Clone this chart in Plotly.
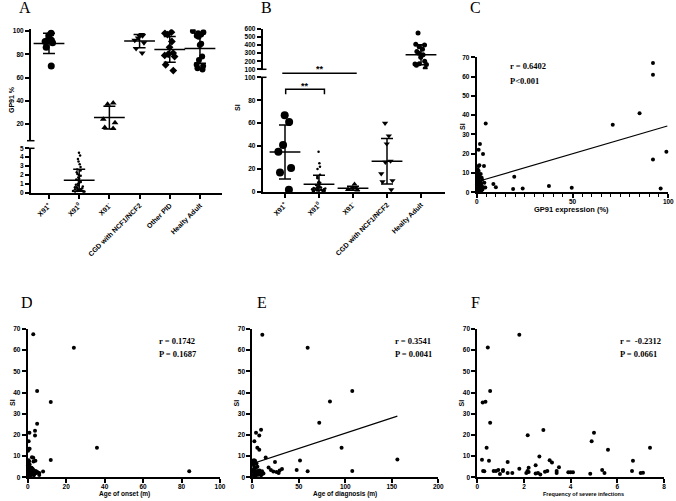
import numpy as np
import plotly.graph_objects as go

W, H = 676, 501
def PX(p): return p / W
def PY(p): return 1 - p / H

# ---------------- data ----------------
A_labels = ["X91<sup>+</sup>", "X91<sup>0</sup>", "X91<sup>-</sup>", "CGD with NCF1/NCF2", "Other PID", "Healty Adult"]
A_x91p = [98, 96, 92, 92, 91, 90, 86, 70]
A_x910 = [4.5, 4.2, 3.8, 3.5, 3.2, 2.9, 2.6, 2.5, 2.3, 2.1, 2.0, 1.9, 1.7, 1.6, 1.5, 1.4, 1.3, 1.2, 1.1,
          1.0, 0.9, 0.8, 0.7, 0.6, 0.6, 0.5, 0.5, 0.4, 0.4, 0.3, 0.3, 0.3, 0.2, 0.2, 0.2, 0.1, 0.1, 0.1]
A_x91m = [38, 37, 24, 21, 17, 16]
A_cgd = [97, 96, 96, 94, 92, 90, 85, 81]
A_other = [99, 98, 97, 91, 86, 81, 80, 79, 78, 71, 66]
A_healthy = [100, 99, 98, 97, 96, 95, 89, 88, 78, 75, 71, 70, 68, 67]

B_labels = ["X91<sup>+</sup>", "X91<sup>0</sup>", "X91<sup>-</sup>", "CGD with NCF1/NCF2", "Healty Adult"]
B_x91p = [67, 61, 41, 35, 21, 17, 2]
B_x910 = [35, 25, 22, 20, 15, 12, 13, 9, 8, 8, 7, 6, 5, 5, 4, 4, 4, 3.5, 3, 3, 3, 2.5, 2.5,
          2, 2, 2, 2, 1.8, 1.5, 1.5, 1.2, 1, 1, 0.8, 0.5]
B_x91m = [7, 4, 3.5, 3, 2.5, 2, 2, 1.5]
B_cgd = [60, 49, 42, 27, 26, 16, 10, 9, 2]
B_healthy = [550, 410, 400, 380, 350, 320, 300, 280, 250, 200, 170, 165, 160, 150, 110]

C_x = [92, 92, 85, 71, 99, 92, 96, 49.6, 37.7, 24, 19, 19.6, 8.7, 10, 4.7, 1.7, 1.0, 3.3, 3.8, 1.0, 4.0, 4.5, 3.0,
       0.2, 0.3, 0.5, 0.8, 1.0, 1.2, 1.5, 0.4, 0.6, 0.9, 1.1, 1.3, 0.2, 0.7, 1.6, 2.0, 2.2, 2.5, 1.8, 0.3,
       0.5, 1.4, 0.6, 2.8, 2.4, 3.2, 0.1, 1.9, 2.6, 0.8, 1.0, 2.1, 0.4, 1.7]
C_y = [67, 61, 41, 35, 21, 17, 2, 2.4, 3.3, 2.0, 1.7, 8.1, 4.3, 2.6, 35.7, 25, 22, 19.8, 13.7, 13.7, 5.0, 2.5, 1.5,
       1.0, 2.0, 3.0, 1.5, 2.5, 4.0, 3.0, 5.0, 6.0, 7.0, 8.0, 9.0, 0.5, 1.2, 1.8, 2.2, 3.5, 1.0, 5.5, 8.5,
       12.0, 14.0, 10.0, 6.5, 4.5, 2.8, 3.8, 0.8, 7.5, 4.8, 11.0, 9.5, 6.8, 2.6]
C_fit_x = [0.5, 99.5]
C_fit_y = [5.6, 34.4]

D_x = [2.9, 24, 4.9, 12, 4.9, 3.8, 3.8, 0.9, 36, 12, 84, 0.5, 1.0, 2.9, 8, 6, 4, 3,
       0.5, 0.7, 1.0, 1.5, 2.0, 2.5, 3.0, 3.5, 1.0, 0.3, 4.5, 5.0, 2.0, 1.2, 0.8, 2.8, 3.2, 1.8,
       0.4, 4.2, 6.0, 2.2, 0.6, 0.2, 1.5, 2.5, 0.1, 3.6, 1.1, 2.0, 0.9, 0.3]
D_y = [67.5, 61.2, 40.7, 35.5, 25.3, 22, 19.7, 21, 14, 8.2, 2.8, 17, 13.5, 9.2, 2.7, 1.1, 7.8, 7.5,
       8, 7.5, 6, 4, 3, 2, 3.5, 2.5, 1.5, 2, 2, 2.5, 4.5, 3.2, 5, 1.5, 1.0, 2.2,
       3.8, 3, 2, 9.5, 13.5, 12.5, 1, 4, 5.5, 1.8, 2.6, 1.2, 3.0, 1.0]

E_x = [10.8, 59.5, 107.5, 83.5, 72, 9.4, 4, 7.5, 2.2, 5.4, 7.5, 96, 14.4, 24.4, 51.3, 156, 47.7, 59.5, 107.5,
       17.5, 20, 22.6, 26, 29.4, 31.9, 28.3,
       0.5, 1, 1.5, 2, 2.5, 3, 3.5, 4, 5, 6, 7, 8, 9, 10, 11, 12, 1.2, 0.8, 2.2, 3.8, 4.5, 5.5, 6.5,
       0.3, 1.8, 3, 7.8, 9.5, 10.5, 2.8, 4.2]
E_y = [67.3, 61.2, 40.7, 35.8, 25.7, 22.4, 21, 19.7, 17, 14, 13, 14, 9.3, 7.2, 7.9, 8.4, 3.5, 2.8, 3,
       4.6, 3.5, 2.7, 2.5, 3.2, 3.9, 2,
       7.8, 7, 6, 5, 4, 3, 2.5, 2, 1.5, 3, 2.5, 1.8, 2.2, 1.5, 2, 1.8, 1, 2.5, 1.8, 4.5, 6.5, 5, 1.2,
       3.5, 8, 7.8, 3.2, 1, 2.8, 0.8, 1]
E_fit_x = [1, 156]
E_fit_y = [6.6, 28.9]

F_x = [1.8, 0.45, 0.55, 0.23, 0.35, 0.55, 0.4, 0.5, 0.2, 0.25, 0.3, 2.16, 2.83, 2.66, 1.3, 2.5, 3.1, 3.2, 3.5, 4.9,
       5.0, 5.6, 7.4, 6.67, 6.63, 7.0, 7.1, 5.35, 5.45, 4.84, 3.9, 4.0, 4.1, 3.4, 3.4, 3.0, 2.9, 2.7, 2.6, 2.5,
       2.1, 2.15, 2.2, 2.2, 1.8, 1.5, 1.3, 1.1, 1.1, 0.97, 0.9, 0.7, 0.8]
F_y = [67.3, 61.3, 40.7, 35.3, 35.7, 25.7, 14, 7.8, 8.3, 3, 2.8, 19.8, 22.3, 9.8, 7.2, 5.7, 8, 7, 4.8, 17,
       21, 13, 14, 7.8, 3, 2, 2.2, 3.5, 2, 1.7, 2.4, 2.4, 2.4, 3, 2, 3, 2.6, 1.3, 2, 1.8,
       2, 3, 4.5, 2.5, 4, 2, 2, 3, 3.5, 1.5, 3.5, 3, 3]

stats_text = {
    "C": ["r = 0.6402", "P<0.001"],
    "D": ["r = 0.1742", "P = 0.1687"],
    "E": ["r = 0.3541", "P = 0.0041"],
    "F": ["r =  -0.2312", "P = 0.0661"],
}

# ---------------- figure ----------------
fig = go.Figure()
SANS = "Liberation Sans"
SERIF = "Liberation Serif"
tickfont = dict(family=SANS, size=6.5, color="black", weight="bold")


def dot_group(xa, ya, pos, vals, symbol, size, jitter=0.8, width=0.6, meanw=22):
    fig.add_trace(go.Box(
        x=[pos] * len(vals), y=vals, xaxis=xa, yaxis=ya, boxpoints="all", jitter=jitter,
        pointpos=0, width=width, fillcolor="rgba(0,0,0,0)",
        line=dict(color="rgba(0,0,0,0)", width=0),
        marker=dict(symbol=symbol, size=size, color="black", line=dict(width=0)),
        hoverinfo="skip", showlegend=False))
    m = float(np.mean(vals))
    s = float(np.std(vals, ddof=1))
    fig.add_trace(go.Scatter(
        x=[pos], y=[m], xaxis=xa, yaxis=ya, mode="markers",
        marker=dict(symbol="line-ew", size=meanw, color="black", line=dict(width=1.5, color="black")),
        error_y=dict(type="data", array=[s], width=6, thickness=1.5, color="black"),
        hoverinfo="skip", showlegend=False))


# Panel A
dot_group("x", "y2", 0, A_x91p, "circle", 7)
dot_group("x", "y", 1, A_x910, "circle", 2.5, jitter=0.9)
dot_group("x", "y2", 2, A_x91m, "triangle-up", 6)
dot_group("x", "y2", 3, A_cgd, "triangle-down", 6)
dot_group("x", "y2", 4, A_other, "diamond", 6)
dot_group("x", "y2", 5, A_healthy, "circle", 6)

# Panel B
dot_group("x2", "y3", 0, B_x91p, "circle", 8)
dot_group("x2", "y3", 1, B_x910, "circle", 2.5, jitter=0.9)
dot_group("x2", "y3", 2, B_x91m, "triangle-up", 5)
dot_group("x2", "y3", 3, B_cgd, "triangle-down", 5.5)
dot_group("x2", "y4", 4, B_healthy, "circle", 5)


def scatter_panel(xa, ya, xs, ys):
    fig.add_trace(go.Scatter(x=xs, y=ys, xaxis=xa, yaxis=ya, mode="markers",
                             marker=dict(size=4, color="black"), cliponaxis=False,
                             hoverinfo="skip", showlegend=False))


scatter_panel("x3", "y5", C_x, C_y)
fig.add_trace(go.Scatter(x=C_fit_x, y=C_fit_y, xaxis="x3", yaxis="y5", mode="lines",
                         line=dict(color="black", width=1.2), showlegend=False, hoverinfo="skip"))
scatter_panel("x4", "y6", D_x, D_y)
scatter_panel("x5", "y7", E_x, E_y)
fig.add_trace(go.Scatter(x=E_fit_x, y=E_fit_y, xaxis="x5", yaxis="y7", mode="lines",
                         line=dict(color="black", width=1.2), showlegend=False, hoverinfo="skip"))
scatter_panel("x6", "y8", F_x, F_y)


def ax(**kw):
    d = dict(showline=True, linewidth=2, linecolor="black", ticks="outside", ticklen=4,
             tickwidth=1.5, tickcolor="black", showgrid=False, zeroline=False,
             tickfont=tickfont, fixedrange=True, automargin=False)
    d.update(kw)
    return d


catfont = dict(family=SANS, size=7, color="black", weight="bold")
layout_axes = dict(
    # A
    xaxis=ax(domain=[PX(31), PX(222)], range=[-0.596, 5.73], anchor="y", tickmode="array",
             tickvals=list(range(6)), ticktext=A_labels, tickangle=-45, tickfont=catfont),
    yaxis=ax(domain=[PY(192.7), PY(148.3)], range=[0, 5], anchor="x", tickmode="array",
             tickvals=[0, 1, 2, 3, 4, 5]),
    yaxis2=ax(domain=[PY(140.7), PY(29.3)], range=[5.6, 101.5], anchor="x", tickmode="array",
              tickvals=[20, 40, 60, 80, 100]),
    # B
    xaxis2=ax(domain=[PX(262.7), PX(445)], range=[-0.656, 4.706], anchor="y3", tickmode="array",
              tickvals=list(range(5)), ticktext=B_labels, tickangle=-45, tickfont=catfont),
    yaxis3=ax(domain=[PY(192), PY(77.3)], range=[0, 100], anchor="x2", tickmode="array",
              tickvals=[0, 20, 40, 60, 80, 100]),
    yaxis4=ax(domain=[PY(69.3), PY(29)], range=[100, 600], anchor="x2", tickmode="array",
              tickvals=[100, 200, 300, 400, 500, 600]),
    # C
    xaxis3=ax(domain=[PX(476.7), PX(668.3)], range=[0, 100], anchor="y5", tick0=0, dtick=50,
              ticklabelstandoff=-2,
              minor=dict(dtick=5, ticklen=2.5, tickwidth=1, ticks="outside", tickcolor="black")),
    yaxis5=ax(domain=[PY(192.3), PY(57.3)], range=[0, 70], anchor="x3", tick0=0, dtick=10),
    # D
    xaxis4=ax(domain=[PX(27.7), PX(220)], range=[0, 100], anchor="y6", tick0=0, dtick=20,
              ticklabelstandoff=-2),
    yaxis6=ax(domain=[PY(477.3), PY(329)], range=[0, 70], anchor="x4", tick0=0, dtick=10),
    # E
    xaxis5=ax(domain=[PX(252.3), PX(438.3)], range=[0, 200], anchor="y7", tick0=0, dtick=50,
              ticklabelstandoff=-2),
    yaxis7=ax(domain=[PY(477.3), PY(329)], range=[0, 70], anchor="x5", tick0=0, dtick=10),
    # F
    xaxis6=ax(domain=[PX(477.3), PX(664)], range=[0, 8], anchor="y8", tick0=0, dtick=2,
              ticklabelstandoff=-2),
    yaxis8=ax(domain=[PY(477.3), PY(329)], range=[0, 70], anchor="x6", tick0=0, dtick=10),
)

annots = []
def text(x, y, t, size=7, family=SANS, weight="bold", angle=0, xanchor="center", xref="paper",
         yref="paper", height=None):
    a = dict(x=x, y=y, xref=xref, yref=yref, text=t, showarrow=False, textangle=angle,
             xanchor=xanchor, yanchor="middle",
             font=dict(family=family, size=size, color="black", weight=weight))
    if height is not None:
        a["height"] = height
    annots.append(a)

# panel letters
for lab, (lx, ly) in {"A": (25, 7), "B": (266, 7), "C": (475, 7),
                      "D": (27, 302), "E": (262, 302), "F": (475, 302)}.items():
    text(PX(lx), PY(ly), lab, size=16, family=SERIF, weight="normal", height=14)

# axis titles
text(PX(12), PY(100), "GP91 %", angle=-90)
for (sx, sy) in [(237, 108), (462, 127), (12.3, 402.7), (236.7, 402.7), (461.7, 402.7)]:
    text(PX(sx), PY(sy), "SI", angle=-90)
text(PX(571), PY(209.5), "GP91 expression (%)", size=7.5)
text(PX(124), PY(494), "Age of onset (m)", size=6.5)
text(PX(345), PY(494), "Age of diagnosis (m)", size=6.5)
text(PX(583), PY(494), "Frequency of severe infections", size=5.5)

# correlation stats
for key, (tx, ty1, ty2) in {"C": (508, 65.7, 81), "D": (156.7, 340.7, 354.3),
                            "E": (393.3, 340.7, 354.3), "F": (618.3, 340.7, 354.3)}.items():
    text(PX(tx), PY(ty1), stats_text[key][0], size=8.5, family=SERIF, xanchor="left")
    text(PX(tx), PY(ty2), stats_text[key][1], size=8.5, family=SERIF, xanchor="left")

# significance stars in B
text(1.03, PY(69), "**", size=9, xref="x2")
text(0.59, PY(86), "**", size=9, xref="x2")

shapes = []
def seg(x0, y0, x1, y1, w=1.5):
    shapes.append(dict(type="line", xref="paper", yref="paper", x0=PX(x0), y0=PY(y0), x1=PX(x1), y1=PY(y1),
                       line=dict(color="black", width=w)))

# broken-axis caps
seg(27, 140.7, 34.5, 140.7)
seg(27, 148.3, 34.5, 148.3)
seg(259, 69.3, 266.5, 69.3)
seg(259, 77.3, 266.5, 77.3)

# significance lines in B
shapes.append(dict(type="line", xref="x2", yref="paper", x0=-0.08, x1=2.11, y0=PY(73.3), y1=PY(73.3),
                   line=dict(color="black", width=1.5)))
shapes.append(dict(type="path", xref="x2", yref="y3",
                   path="M 0.02,85.2 L 0.02,89.5 L 1.16,89.5 L 1.16,85.2",
                   line=dict(color="black", width=1.5)))

fig.update_layout(
    width=W, height=H, margin=dict(l=0, r=0, t=0, b=0, autoexpand=False),
    paper_bgcolor="white", plot_bgcolor="white",
    showlegend=False, annotations=annots, shapes=shapes, boxmode="overlay",
    **layout_axes,
)

fig.write_html("out.html", config={"displayModeBar": False},
               post_script="document.body.style.margin='0';")
